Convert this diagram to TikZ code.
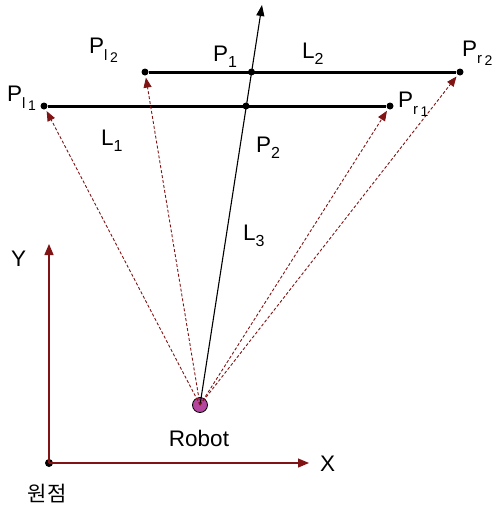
\documentclass[tikz,border=0pt]{standalone}
\usepackage{fontspec}
\setmainfont{Liberation Sans}
\newfontfamily\krfont{Noto Sans CJK KR}
\usetikzlibrary{arrows.meta}
\definecolor{dred}{RGB}{128,20,20}
\definecolor{rpurple}{RGB}{180,70,160}
\newcommand{\lowsub}[1]{\raisebox{-6pt}{\fontsize{16}{16}\selectfont #1}}
\newcommand{\lowsubb}[2]{\raisebox{-7pt}{\fontsize{15}{15}\selectfont #1\,\raisebox{-2pt}{\fontsize{14}{14}\selectfont #2}}}
\begin{document}
\begin{tikzpicture}[x=1pt,y=-1pt,
  dot/.style={circle,fill=black,inner sep=0pt,minimum size=7pt},
  seg/.style={line width=3pt},
  ray/.style={dred,densely dashed,line width=0.9pt,-{Triangle[length=10pt,width=8pt]},shorten >=2pt},
  axis/.style={dred,line width=1.3pt,-{Triangle[length=11pt,width=9pt]}},
  lbl/.style={font=\fontsize{22.5}{22.5}\selectfont,inner sep=0pt}]
\useasboundingbox (0,0) rectangle (494,509);
% points
\node[dot] (pl1) at (44,106) {};
\node[dot] (pr1) at (390,106) {};
\node[dot] (pl2) at (145,72) {};
\node[dot] (pr2) at (460,72) {};
\node[dot] (p1) at (251.5,72) {};
\node[dot] (p2) at (246,106) {};
\coordinate (top) at (262,5);
\node[circle,draw=black,line width=0.8pt,fill=rpurple,minimum size=15pt,inner sep=0pt] (robot) at (200,405) {};
% lines
\draw[seg] (pl1) -- (pr1);
\draw[seg] (pl2) -- (pr2);
\draw[line width=1.1pt,-{Triangle[length=11pt,width=8pt]}] (robot.center) -- (top);
% rays
\draw[ray] (robot.center) -- (pl1);
\draw[ray] (robot.center) -- (pl2);
\draw[ray] (robot.center) -- (pr1);
\draw[ray] (robot.center) -- (pr2);
% axes
\node[dot,minimum size=8pt] (origin) at (49,463) {};
\coordinate (yend) at (49,244);
\coordinate (xend) at (309,463);
\draw[axis] (origin.center) -- (yend);
\draw[axis] (origin.center) -- (xend);
% labels
\node[lbl,anchor=base west] (lpl1) at (7,101) {P\lowsubb{l}{1}};
\node[lbl,anchor=base west] (lpl2) at (89,53) {P\lowsubb{l}{2}};
\node[lbl,anchor=base west] (lp1) at (213,61) {P\lowsub{1}};
\node[lbl,anchor=base west] (ll2) at (302,58) {L\lowsub{2}};
\node[lbl,anchor=base west] (lpr2) at (462,56) {P\lowsubb{r}{2}};
\node[lbl,anchor=base west] (lpr1) at (398,107) {P\lowsubb{r}{1}};
\node[lbl,anchor=base west] (ll1) at (101,145) {L\lowsub{1}};
\node[lbl,anchor=base west] (lp2) at (256,152) {P\lowsub{2}};
\node[lbl,anchor=base west] (ll3) at (243,240) {L\lowsub{3}};
\node[lbl,anchor=base west] (ly) at (11,266) {Y};
\node[lbl,anchor=base west] (lx) at (320,471) {X};
\node[lbl,anchor=base] (lrobot) at (199,446) {Robot};
\node[lbl,anchor=base,font=\krfont\fontsize{21}{21}\selectfont] (lorigin) at (47,501) {원점};
\end{tikzpicture}
\end{document}
